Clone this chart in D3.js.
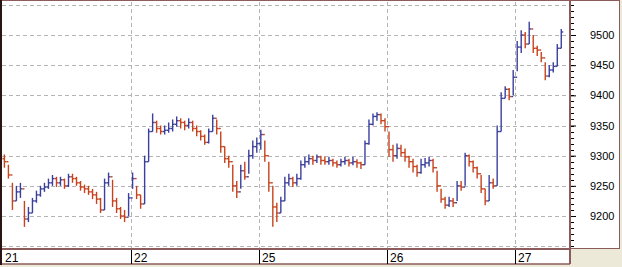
<!DOCTYPE html>
<html>
<head>
<meta charset="utf-8">
<script src="https://cdn.jsdelivr.net/npm/d3@7"></script>
<style>
  body { margin: 0; background: #ece9d8; }
  svg { display: block; }
</style>
</head>
<body>
<div id="chart"></div>
<script>
	//day labels along the bottom strip
	var dayLabels = ["21", "22", "25", "26", "27"];

	//price ticks on the right axis
	var priceTicks = [9200, 9250, 9300, 9350, 9400, 9450, 9500];

	//bars per day (day 27 is cut by the right edge)
	var barsPerDay = 32;

	//closes, highs, lows for every bar, one group per day
	var closes21 = [9290,9268,9225,9240,9245,9195,9205,9225,9235,9245,9248,9255,9262,9255,9260,9250,9265,9262,9255,9248,9245,9240,9235,9228,9210,9255,9265,9225,9212,9200,9198,9230];
	var highs21  = [9302,9285,9255,9250,9255,9225,9215,9230,9242,9250,9255,9262,9268,9265,9265,9262,9270,9270,9265,9258,9252,9250,9245,9240,9230,9262,9272,9260,9230,9215,9210,9238];
	var lows21   = [9280,9262,9210,9225,9230,9182,9190,9205,9222,9232,9240,9245,9250,9248,9250,9245,9248,9255,9250,9242,9238,9235,9228,9220,9205,9210,9250,9215,9205,9195,9190,9200];

	var closes22 = [9262,9235,9220,9290,9340,9355,9345,9340,9342,9345,9352,9358,9355,9350,9355,9345,9340,9332,9322,9340,9362,9345,9315,9295,9290,9250,9240,9275,9265,9300,9315,9320];
	var highs22  = [9272,9250,9235,9300,9345,9370,9358,9350,9350,9355,9360,9365,9362,9358,9362,9358,9350,9342,9335,9345,9368,9360,9340,9315,9300,9285,9258,9285,9290,9310,9325,9330];
	var lows22   = [9245,9228,9212,9220,9290,9340,9338,9335,9335,9338,9340,9348,9345,9342,9345,9340,9332,9325,9318,9320,9340,9335,9305,9288,9280,9240,9230,9245,9260,9270,9295,9305];

	var closes25 = [9335,9300,9255,9215,9205,9225,9255,9262,9255,9262,9285,9290,9295,9292,9298,9292,9290,9292,9288,9285,9290,9292,9288,9290,9288,9285,9320,9352,9365,9368,9358,9348];
	var highs25  = [9343,9325,9290,9250,9222,9232,9265,9270,9265,9270,9292,9298,9302,9300,9302,9300,9298,9298,9295,9292,9295,9298,9295,9298,9294,9290,9325,9360,9370,9372,9370,9362];
	var lows25   = [9310,9290,9240,9182,9190,9205,9225,9250,9248,9250,9260,9280,9285,9285,9288,9285,9285,9285,9282,9280,9282,9285,9282,9284,9280,9278,9285,9318,9350,9358,9352,9340];

	var closes26 = [9310,9300,9312,9305,9298,9290,9282,9272,9285,9288,9292,9280,9250,9228,9218,9225,9222,9250,9248,9300,9290,9280,9270,9245,9225,9255,9250,9340,9395,9410,9398,9430];
	var highs26  = [9340,9318,9320,9318,9312,9300,9295,9285,9295,9296,9298,9295,9275,9245,9232,9232,9230,9258,9258,9305,9302,9292,9282,9268,9245,9268,9262,9350,9405,9415,9412,9442];
	var lows26   = [9298,9290,9295,9298,9290,9280,9272,9265,9270,9280,9282,9272,9240,9222,9212,9215,9215,9225,9242,9250,9282,9272,9262,9238,9218,9225,9245,9250,9340,9395,9392,9400];

	var closes27 = [9480,9500,9485,9510,9478,9475,9462,9432,9442,9448,9478,9505];
	var highs27  = [9490,9508,9505,9522,9500,9482,9472,9455,9450,9455,9485,9510];
	var lows27   = [9440,9470,9478,9485,9470,9465,9455,9425,9430,9438,9448,9478];

	var firstOpen = 9295;

	var allCloses = [closes21, closes22, closes25, closes26, closes27];
	var allHighs  = [highs21, highs22, highs25, highs26, highs27];
	var allLows   = [lows21, lows22, lows25, lows26, lows27];

	//Width and height
	var w = 622;
	var h = 267;

	var plotLeft = 2;
	var plotRight = 570;
	var plotBottom = 248;
	var dayWidth = 128.2;

	var upColor = "#3b3f9e";
	var downColor = "#c8421c";
	var frameColor = "#8c5c5c";

	//build bar list --------------------------------------------------------------
	var bars = [];
	var prevClose = firstOpen;
	for (var d = 0; d < allCloses.length; d++) {
		for (var i = 0; i < allCloses[d].length; i++) {
			bars.push({
				t: d + (i + 0.5) / barsPerDay,
				o: prevClose,
				hi: allHighs[d][i],
				lo: allLows[d][i],
				c: allCloses[d][i]
			});
			prevClose = allCloses[d][i];
		}
	}

	//scales
	var x = d3.scaleLinear()
		.domain([0, 1])
		.range([plotLeft + 0.4, plotLeft + 0.4 + dayWidth]);

	var y = d3.scaleLinear()
		.domain([9200, 9500])
		.range([216, 35]);

	//Create SVG element------------------------------------------------------------
	var svg = d3.select("#chart")
		.append("svg")
		.attr("width", w)
		.attr("height", h);

	//white panels
	svg.append("rect")
		.attr("x", 0).attr("y", 0)
		.attr("width", 620).attr("height", plotBottom + 1)
		.attr("fill", "#fff");

	svg.append("rect")
		.attr("x", 0).attr("y", plotBottom + 1)
		.attr("width", plotRight).attr("height", 15)
		.attr("fill", "#fff");

	//horizontal grid
	var gridVals = d3.range(9150, 9551, 50);
	svg.selectAll(".hgrid")
		.data(gridVals)
		.enter()
		.append("line")
		.attr("class", "hgrid")
		.attr("x1", plotLeft)
		.attr("x2", plotRight)
		.attr("y1", function(d) { return Math.round(y(d)) + 0.5; })
		.attr("y2", function(d) { return Math.round(y(d)) + 0.5; })
		.attr("stroke", "#b4b4b4")
		.attr("stroke-dasharray", "4,3");

	//vertical grid at day starts
	svg.selectAll(".vgrid")
		.data([1, 2, 3, 4])
		.enter()
		.append("line")
		.attr("class", "vgrid")
		.attr("x1", function(d) { return Math.round(x(d)) + 0.5; })
		.attr("x2", function(d) { return Math.round(x(d)) + 0.5; })
		.attr("y1", 2)
		.attr("y2", plotBottom)
		.attr("stroke", "#b4b4b4")
		.attr("stroke-dasharray", "4,3");

	//price bars -------------------------------------------------------------------
	var barG = svg.append("g");

	var bar = barG.selectAll("g")
		.data(bars)
		.enter()
		.append("g")
		.attr("stroke", function(d) { return d.c >= d.o ? upColor : downColor; })
		.attr("stroke-width", 1.4);

	bar.append("line")
		.attr("x1", function(d) { return x(d.t); })
		.attr("x2", function(d) { return x(d.t); })
		.attr("y1", function(d) { return y(d.hi); })
		.attr("y2", function(d) { return y(d.lo); });

	bar.append("line")
		.attr("x1", function(d) { return x(d.t) - 2; })
		.attr("x2", function(d) { return x(d.t); })
		.attr("y1", function(d) { return y(d.o); })
		.attr("y2", function(d) { return y(d.o); });

	bar.append("line")
		.attr("x1", function(d) { return x(d.t); })
		.attr("x2", function(d) { return x(d.t) + 2; })
		.attr("y1", function(d) { return y(d.c); })
		.attr("y2", function(d) { return y(d.c); });

	//right axis -------------------------------------------------------------------
	var yAxis = d3.axisRight(y)
		.tickValues(priceTicks)
		.tickFormat(d3.format("d"))
		.tickSize(5)
		.tickPadding(14);

	var axisG = svg.append("g")
		.attr("transform", "translate(" + (plotRight + 1) + ",0)")
		.call(yAxis);

	axisG.select(".domain").remove();
	axisG.selectAll("line").attr("stroke", "#000");
	axisG.selectAll("text")
		.attr("font-family", "Liberation Sans, Arial, sans-serif")
		.attr("font-size", 11)
		.attr("fill", "#000");

	//minor ticks every 10
	svg.selectAll(".minor")
		.data(d3.range(9150, 9551, 10))
		.enter()
		.append("line")
		.attr("class", "minor")
		.attr("x1", plotRight + 1)
		.attr("x2", plotRight + 4)
		.attr("y1", function(d) { return Math.round(y(d)) + 0.5; })
		.attr("y2", function(d) { return Math.round(y(d)) + 0.5; })
		.attr("stroke", "#000");

	//frame lines ------------------------------------------------------------------
	svg.append("line")
		.attr("x1", plotRight).attr("x2", plotRight)
		.attr("y1", 0).attr("y2", 264)
		.attr("stroke", frameColor).attr("stroke-width", 2);

	svg.append("line")
		.attr("x1", 0).attr("x2", plotRight)
		.attr("y1", plotBottom + 1).attr("y2", plotBottom + 1)
		.attr("stroke", frameColor).attr("stroke-width", 2);

	svg.append("line")
		.attr("x1", plotRight).attr("x2", 620)
		.attr("y1", plotBottom + 0.5).attr("y2", plotBottom + 0.5)
		.attr("stroke", frameColor);

	svg.append("line")
		.attr("x1", 619.5).attr("x2", 619.5)
		.attr("y1", 0).attr("y2", plotBottom + 1)
		.attr("stroke", frameColor);

	svg.append("line")
		.attr("x1", 0).attr("x2", 620)
		.attr("y1", 0.5).attr("y2", 0.5)
		.attr("stroke", frameColor);

	svg.append("line")
		.attr("x1", 0).attr("x2", plotRight)
		.attr("y1", 264).attr("y2", 264)
		.attr("stroke", frameColor).attr("stroke-width", 1.5);

	svg.append("line")
		.attr("x1", 1).attr("x2", 1)
		.attr("y1", 0).attr("y2", 265)
		.attr("stroke", "#2a1414").attr("stroke-width", 2);

	//day strip ----------------------------------------------------------------------
	var strip = svg.selectAll(".day")
		.data(dayLabels)
		.enter()
		.append("g")
		.attr("class", "day");

	strip.append("line")
		.attr("x1", function(d, i) { return Math.round(x(i)) + 0.5; })
		.attr("x2", function(d, i) { return Math.round(x(i)) + 0.5; })
		.attr("y1", plotBottom + 2)
		.attr("y2", 264)
		.attr("stroke", "#000")
		.attr("stroke-width", function(d, i) { return i == 0 ? 0 : 1; });

	strip.append("text")
		.attr("x", function(d, i) { return Math.round(x(i)) + 3; })
		.attr("y", 262)
		.attr("font-family", "Liberation Sans, Arial, sans-serif")
		.attr("font-size", 12)
		.attr("fill", "#000")
		.text(function(d) { return d; });
</script>
</body>
</html>
